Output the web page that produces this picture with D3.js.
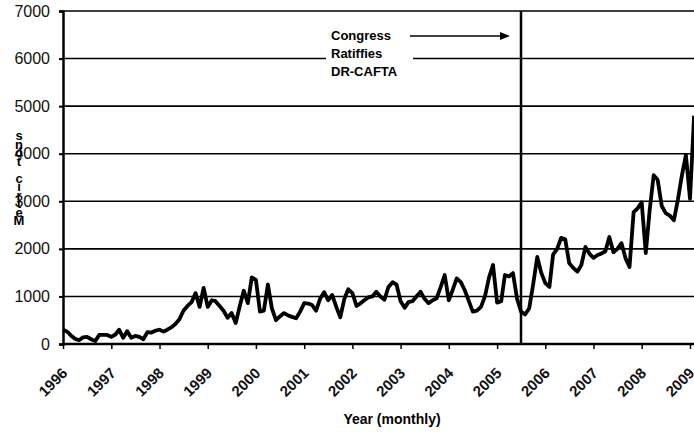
<!DOCTYPE html>
<html>
<head>
<meta charset="utf-8">
<script src="https://cdn.jsdelivr.net/npm/d3@7"></script>
<style>
  body { margin: 0; background: #fff; }
  svg { display: block; font-family: "Liberation Sans", Arial, sans-serif; }
</style>
</head>
<body>
<svg id="chart" width="694" height="432"></svg>
<script>
// monthly values, metric tons, Jan 1996 .. Feb 2009
const y1996 = [300, 260, 180, 110, 80, 140, 150, 100, 60, 190, 190, 190];
const y1997 = [150, 200, 300, 130, 270, 130, 170, 150, 100, 250, 240, 280];
const y1998 = [300, 260, 300, 350, 420, 520, 700, 800, 880, 1070, 780, 1180];
const y1999 = [780, 920, 900, 800, 700, 550, 650, 440, 800, 1120, 860, 1400];
const y2000 = [1350, 680, 700, 1250, 750, 500, 580, 650, 600, 570, 540, 680];
const y2001 = [860, 850, 820, 700, 950, 1090, 920, 1030, 780, 560, 950, 1150];
const y2002 = [1070, 800, 850, 920, 980, 1000, 1100, 1000, 930, 1200, 1300, 1250];
const y2003 = [900, 760, 880, 900, 1000, 1100, 950, 860, 920, 960, 1200, 1450];
const y2004 = [920, 1150, 1380, 1300, 1130, 900, 680, 700, 780, 1000, 1400, 1660];
const y2005 = [870, 900, 1450, 1420, 1490, 950, 680, 620, 750, 1250, 1830, 1500];
const y2006 = [1280, 1200, 1880, 2000, 2230, 2200, 1700, 1600, 1520, 1660, 2040, 1900];
const y2007 = [1810, 1870, 1900, 1950, 2250, 1930, 2000, 2120, 1800, 1620, 2770, 2850];
const y2008 = [2980, 1910, 2800, 3550, 3450, 2900, 2750, 2700, 2600, 3030, 3550, 3970];
const y2009 = [3050, 4800];

const yearTicks = d3.range(1996, 2010);
const yTicks = [0, 1000, 2000, 3000, 4000, 5000, 6000, 7000];
const eventDate = new Date(2005, 6, 1);
const noteLines = ["Congress", "Ratiffies", "DR-CAFTA"];
const yTitle = "Metric tons";
const xTitle = "Year (monthly)";

const values = [].concat(y1996, y1997, y1998, y1999, y2000, y2001, y2002,
  y2003, y2004, y2005, y2006, y2007, y2008, y2009);
const series = values.map((v, i) => ({ date: new Date(1996, i, 1), value: v }));

const svg = d3.select("#chart");
const mLeft = 63, mTop = 11, mBottom = 344, mRight = 694;

const x = d3.scaleTime()
  .domain([new Date(1996, 0, 1), new Date(2009, 0, 1)])
  .range([mLeft, 690]);
const y = d3.scaleLinear().domain([0, 7000]).range([mBottom, mTop]);

// gridlines
svg.append("g")
  .selectAll("line").data(yTicks.filter(d => d > 0)).join("line")
  .attr("x1", mLeft).attr("x2", mRight)
  .attr("y1", d => y(d)).attr("y2", d => y(d))
  .attr("stroke", "#000").attr("stroke-width", 1.6);

// y axis
const yAxis = svg.append("g").attr("transform", `translate(${mLeft},0)`)
  .call(d3.axisLeft(y).tickValues(yTicks).tickFormat(d3.format("d")).tickSize(4).tickPadding(9));
yAxis.select(".domain").attr("stroke-width", 2.5);
yAxis.selectAll(".tick line").attr("stroke-width", 2);
yAxis.selectAll("text").attr("font-size", 16).attr("fill", "#111");

// x axis
const xAxis = svg.append("g").attr("transform", `translate(0,${mBottom})`)
  .call(d3.axisBottom(x).tickValues(yearTicks.map(d => new Date(d, 0, 1)))
    .tickFormat(d3.timeFormat("%Y")).tickSize(5).tickSizeOuter(0));
xAxis.select(".domain").attr("d", `M${mLeft},0H${mRight}`).attr("stroke-width", 2.5);
xAxis.selectAll(".tick line").attr("stroke-width", 1.5);
xAxis.selectAll("text")
  .attr("font-size", 15).attr("font-weight", "bold").attr("fill", "#111")
  .attr("text-anchor", "end")
  .attr("transform", "translate(5,30) rotate(-45)")
  .attr("dy", 0).attr("y", 0).attr("x", 0);

// annotation box & text
const note = svg.append("g");
note.append("rect").attr("x", 326).attr("y", 26).attr("width", 87).attr("height", 52).attr("fill", "#fff");
note.selectAll("text").data(noteLines).join("text")
  .attr("x", 331).attr("y", (d, i) => 40 + i * 18)
  .attr("font-size", 13).attr("font-weight", "bold")
  .text(d => d);
note.append("line")
  .attr("x1", 410).attr("x2", 502).attr("y1", 36).attr("y2", 36)
  .attr("stroke", "#000").attr("stroke-width", 1.5);
note.append("path")
  .attr("d", "M510,36 L500,32 L500,40 Z").attr("fill", "#000");

// event line
svg.append("line")
  .attr("x1", x(eventDate)).attr("x2", x(eventDate))
  .attr("y1", mTop).attr("y2", mBottom)
  .attr("stroke", "#000").attr("stroke-width", 2.5);

// data line
svg.append("path").datum(series)
  .attr("fill", "none").attr("stroke", "#000").attr("stroke-width", 3.8)
  .attr("stroke-linejoin", "round")
  .attr("d", d3.line().x(d => x(d.date)).y(d => y(d.value)));

// y title: letters stacked upright, reading bottom to top
const letters = yTitle.split("").reverse();
svg.append("g").selectAll("text").data(letters).join("text")
  .attr("x", 19).attr("y", (d, i) => 140 + i * 8.5)
  .attr("text-anchor", "middle")
  .attr("font-size", 13).attr("font-weight", "bold")
  .text(d => d);

// x title
svg.append("text")
  .attr("x", 392).attr("y", 424).attr("text-anchor", "middle")
  .attr("font-size", 14).attr("font-weight", "bold")
  .text(xTitle);
</script>
</body>
</html>
